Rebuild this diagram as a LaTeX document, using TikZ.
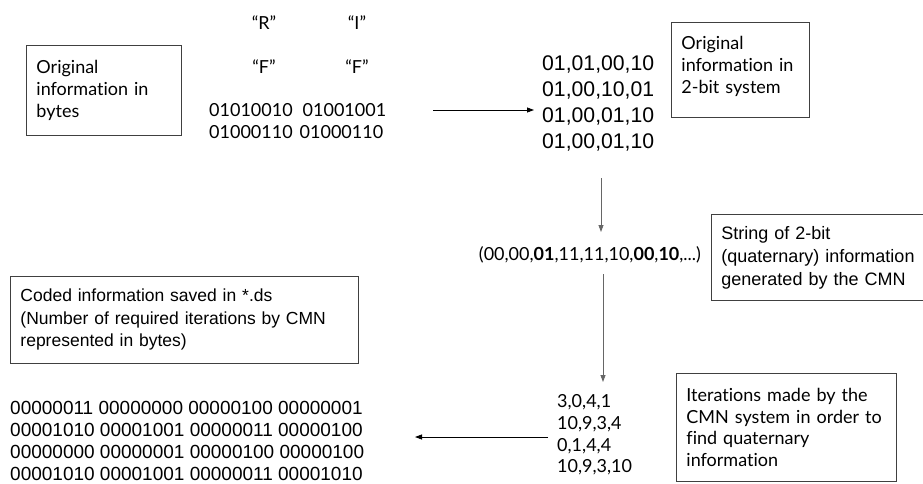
\documentclass[tikz,border=0pt]{standalone}
\usepackage{fontspec}
\setmainfont{Lato}
\newfontfamily\latofont[RawFeature=-liga]{Lato}
\newfontfamily\arialfont{Liberation Sans}
\usetikzlibrary{arrows.meta}
\begin{document}
\begin{tikzpicture}[x=1pt,y=-1pt,
  lato/.style={font=\latofont\fontsize{18}{21.7}\selectfont},
  arial/.style={font=\arialfont\fontsize{17.5}{22.5}\selectfont},
  bigdigits/.style={font=\arialfont\fontsize{21.2}{26}\selectfont},
  infobox/.style={draw=black!75, line width=0.9pt, anchor=north west, inner xsep=10pt,
    inner ysep=0pt, align=left},
  txt/.style={inner sep=0pt, align=left},
  flow/.style={line width=0.8pt, -{Triangle[length=7pt,width=5pt]}},
  fgray/.style={flow, draw=black!60, fill=black!60}
]
\useasboundingbox (0,0) rectangle (923,483);

% original bytes
\node[infobox, lato, minimum width=155pt, minimum height=90pt, text width=135pt]
  (bytesbox) at (26,45) {Original\\information in\\bytes};
\node[txt, lato, anchor=center] (qR) at (264,23) {“R”};
\node[txt, lato, anchor=center] (qI) at (357,23) {“I”};
\node[txt, lato, anchor=center] (qF1) at (264,67) {“F”};
\node[txt, lato, anchor=center] (qF2) at (357,67) {“F”};
\node[txt, lato, anchor=west] (bytes) at (209,121) {01010010\hspace{10pt}01001001\\01000110\hspace{7pt}01000110};

% 2-bit representation
\node[txt, bigdigits, anchor=west] (twobit) at (542,103) {01,01,00,10\\01,00,10,01\\01,00,01,10\\01,00,01,10};
\node[infobox, lato, font=\latofont\fontsize{18}{22}\selectfont, minimum width=138pt,
  minimum height=95pt, text width=118pt]
  (twobitbox) at (671,22) {Original\\information in\\2-bit system\\[-11pt]\mbox{}};

% quaternary string (the box runs past the right margin)
\node[txt, lato, anchor=center] (seq) at (590,255)
  {(00,00,\textbf{01},11,11,10,\textbf{00},\textbf{10},...)};
\node[infobox, arial, font=\arialfont\fontsize{18}{23}\selectfont, minimum width=222pt,
  minimum height=86pt, text width=202pt]
  (seqbox) at (711,214) {String of 2-bit\\(quaternary) information\\generated by the CMN};

% iterations
\node[txt, lato, anchor=west] (iters) at (557,435) {3,0,4,1\\10,9,3,4\\0,1,4,4\\10,9,3,10};
\node[infobox, lato, minimum width=220pt, minimum height=108pt, text width=200pt]
  (itersbox) at (676,373) {Iterations made by the\\CMN system in order to\\find quaternary\\information};

% coded output
\node[infobox, arial, minimum width=348pt, minimum height=87pt, text width=328pt]
  (codedbox) at (10,276) {Coded information saved in *.ds\\(Number of required iterations by CMN\\represented in bytes)};
\node[txt, arial, font=\arialfont\fontsize{19}{21.8}\selectfont, anchor=west] (coded) at (10,441)
  {00000011 00000000 00000100 00000001\\00001010 00001001 00000011 00000100\\00000000 00000001 00000100 00000100\\00001010 00001001 00000011 00001010};

% connectors
\coordinate (a1) at (433,110);
\coordinate (a2) at (534,110);
\draw[flow] (a1) -- (a2);
\coordinate (b1) at (601,178);
\coordinate (b2) at (601,232);
\draw[fgray] (b1) -- (b2);
\coordinate (c1) at (603,274);
\coordinate (c2) at (603,382);
\draw[fgray] (c1) -- (c2);
\coordinate (d1) at (548,437);
\coordinate (d2) at (415,437);
\draw[flow] (d1) -- (d2);
\end{tikzpicture}
\end{document}
